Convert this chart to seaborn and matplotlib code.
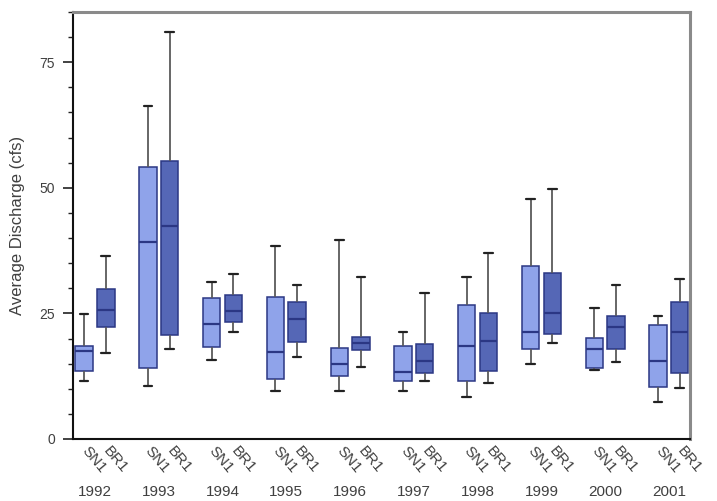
import numpy as np
import pandas as pd
import matplotlib
matplotlib.use("Agg")
import matplotlib.pyplot as plt
from matplotlib.ticker import MultipleLocator
import seaborn as sns

# Annual summary of average discharge (cfs) at two gauges
years = ["1992", "1993", "1994", "1995", "1996", "1997", "1998", "1999", "2000", "2001"]
sites = ["SN1", "BR1"]

# Five-number summaries per year: minimum, lower quartile, median, upper quartile, maximum
sn1_min = [11.6, 10.6, 15.7, 9.5, 9.6, 9.6, 8.4, 14.9, 13.8, 7.4]
sn1_q1 = [13.6, 14.1, 18.4, 12.0, 12.5, 11.6, 11.6, 17.9, 14.1, 10.4]
sn1_med = [17.5, 39.3, 22.8, 17.4, 14.9, 13.3, 18.6, 21.2, 17.9, 15.5]
sn1_q3 = [18.6, 54.2, 28.0, 28.2, 18.1, 18.6, 26.6, 34.5, 20.2, 22.6]
sn1_max = [24.9, 66.2, 31.2, 38.4, 39.6, 21.2, 32.3, 47.7, 26.0, 24.4]

br1_min = [17.1, 17.9, 21.2, 16.4, 14.3, 11.6, 11.1, 19.1, 15.4, 10.1]
br1_q1 = [22.2, 20.7, 23.2, 19.3, 17.7, 13.1, 13.5, 20.9, 17.9, 13.1]
br1_med = [25.6, 42.5, 25.5, 23.9, 19.2, 15.6, 19.6, 25.0, 22.3, 21.3]
br1_q3 = [29.8, 55.4, 28.7, 27.2, 20.3, 18.9, 25.0, 33.0, 24.5, 27.2]
br1_max = [36.5, 81.1, 32.8, 30.7, 32.2, 29.1, 37.0, 49.8, 30.7, 31.8]

summaries = {
    "SN1": [sn1_min, sn1_q1, sn1_med, sn1_q3, sn1_max],
    "BR1": [br1_min, br1_q1, br1_med, br1_q3, br1_max],
}

# Long table: five values per year/site reproduce the quartiles exactly
rows = []
for site in sites:
    cols = summaries[site]
    for i, yr in enumerate(years):
        for col in cols:
            rows.append({"Year": yr, "Site": site, "Discharge": col[i]})
df = pd.DataFrame(rows)

sns.set_style("white")
plt.rcParams["font.family"] = ["Liberation Sans", "DejaVu Sans"]

fig = plt.figure(figsize=(7.17, 5.01), dpi=100)
ax = fig.add_axes([0.1018, 0.1238, 0.8605, 0.8522])

edge = "#2b3784"
sns.boxplot(
    data=df, x="Year", y="Discharge", hue="Site",
    order=years, hue_order=sites,
    palette={"SN1": "#8fa3ea", "BR1": "#5567b6"},
    width=0.68, gap=0.2, whis=(0, 100), saturation=1,
    linecolor=edge, linewidth=1.1,
    whiskerprops={"color": "#5a5a5a", "linewidth": 1.3},
    capprops={"color": "#222222", "linewidth": 1.6},
    medianprops={"color": edge, "linewidth": 1.6},
    legend=False, ax=ax,
)

ax.set_xlim(-0.345, 9.33)
ax.set_ylim(0, 85)

txt = "#404040"

# y axis ticks
ax.yaxis.set_major_locator(MultipleLocator(25))
ax.yaxis.set_minor_locator(MultipleLocator(5))
ax.tick_params(axis="y", which="major", direction="out", length=7, width=1.2,
               color="#222222", labelsize=10, labelcolor=txt, pad=6, left=True)
ax.tick_params(axis="y", which="minor", direction="out", length=3.5, width=1.0,
               color="#222222", left=True)
ax.set_ylabel("Average Discharge (cfs)", fontsize=12, color=txt, labelpad=10)
ax.set_xlabel("")

# x axis: years as major labels, site names at each box as minor labels
offset = 0.17
ax.set_xticks(range(len(years)))
ax.set_xticklabels(years)
site_pos = []
site_lab = []
for i in range(len(years)):
    site_pos += [i - offset, i + offset]
    site_lab += sites
ax.set_xticks(site_pos, minor=True)
ax.set_xticklabels(site_lab, minor=True)
ax.tick_params(axis="x", which="major", length=0, pad=33, labelsize=11,
               labelcolor=txt)
ax.tick_params(axis="x", which="minor", length=0, pad=7, labelsize=11,
               labelcolor=txt)
for lab in ax.get_xticklabels(minor=True):
    lab.set_rotation(-50)
    lab.set_ha("left")
    lab.set_va("center")
    lab.set_rotation_mode("anchor")

for side in ["left", "bottom"]:
    ax.spines[side].set_color("#111111")
    ax.spines[side].set_linewidth(1.5)
for side in ["top", "right"]:
    ax.spines[side].set_color("#8a8a8a")
    ax.spines[side].set_linewidth(2.2)

fig.savefig("out.png", dpi=100)
